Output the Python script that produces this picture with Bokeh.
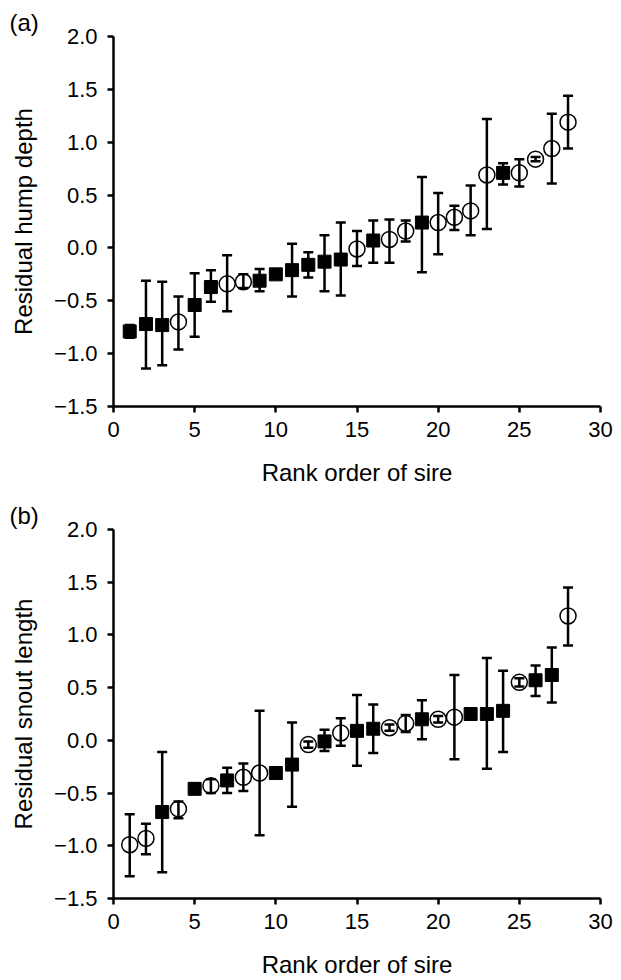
from bokeh.plotting import figure
from bokeh.models import ColumnDataSource, Whisker, TeeHead, FixedTicker
from bokeh.layouts import column
from bokeh.embed import file_html
from bokeh.resources import INLINE

# ---------------- data ----------------
rank = list(range(1, 29))

# S = filled square, C = open circle
hump_kind = ["S", "S", "S", "C", "S", "S", "C", "C", "S", "S",
             "S", "S", "S", "S", "C", "S", "C", "C", "S", "C",
             "C", "C", "C", "S", "C", "C", "C", "C"]
hump_mean = [-0.79, -0.72, -0.73, -0.70, -0.54, -0.37, -0.34, -0.32, -0.31, -0.25,
             -0.21, -0.16, -0.13, -0.11, -0.01, 0.07, 0.08, 0.16, 0.24, 0.24,
             0.29, 0.35, 0.69, 0.71, 0.71, 0.84, 0.94, 1.19]
hump_lower = [-0.85, -1.14, -1.11, -0.96, -0.84, -0.51, -0.60, -0.38, -0.41, -0.27,
              -0.46, -0.28, -0.41, -0.45, -0.17, -0.14, -0.14, 0.06, -0.23, -0.06,
              0.17, 0.12, 0.18, 0.60, 0.58, 0.82, 0.61, 0.94]
hump_upper = [-0.73, -0.31, -0.32, -0.46, -0.24, -0.21, -0.07, -0.25, -0.20, -0.23,
              0.04, -0.04, 0.12, 0.24, 0.16, 0.26, 0.27, 0.26, 0.67, 0.52,
              0.40, 0.59, 1.22, 0.80, 0.84, 0.86, 1.27, 1.44]

snout_kind = ["C", "C", "S", "C", "S", "C", "S", "C", "C", "S",
              "S", "C", "S", "C", "S", "S", "C", "C", "S", "C",
              "C", "S", "S", "S", "C", "S", "S", "C"]
snout_mean = [-0.99, -0.93, -0.68, -0.65, -0.46, -0.43, -0.38, -0.35, -0.31, -0.31,
              -0.23, -0.04, -0.01, 0.07, 0.09, 0.11, 0.12, 0.16, 0.20, 0.20,
              0.22, 0.25, 0.25, 0.28, 0.55, 0.57, 0.62, 1.18]
snout_lower = [-1.29, -1.08, -1.25, -0.74, -0.48, -0.50, -0.50, -0.48, -0.90, -0.33,
               -0.63, -0.07, -0.10, -0.05, -0.24, -0.12, 0.09, 0.08, 0.01, 0.17,
               -0.18, 0.23, -0.27, -0.11, 0.51, 0.42, 0.36, 0.90]
snout_upper = [-0.70, -0.79, -0.11, -0.58, -0.44, -0.37, -0.26, -0.22, 0.28, -0.29,
               0.17, -0.01, 0.10, 0.21, 0.43, 0.34, 0.15, 0.24, 0.38, 0.23,
               0.62, 0.27, 0.78, 0.66, 0.59, 0.71, 0.88, 1.45]

x_ticks = [0, 5, 10, 15, 20, 25, 30]
y_ticks = [-1.5, -1.0, -0.5, 0.0, 0.5, 1.0, 1.5, 2.0]
y_tick_labels = ["\u22121.5", "\u22121.0", "\u22120.5", "0.0", "0.5", "1.0", "1.5", "2.0"]

FONT = "Liberation Sans"
TICK_FS = "22px"
TITLE_FS = "24px"


def panel(letter, ylabel, kind, mean, lower, upper, top, bottom):
    frame_h = 370
    p = figure(width=615, height=top + frame_h + bottom,
               x_range=(0, 30), y_range=(-1.5, 2.0),
               output_backend="svg", toolbar_location=None,
               min_border_left=113, min_border_right=15,
               min_border_top=top, min_border_bottom=bottom)
    p.outline_line_color = None
    p.xgrid.visible = False
    p.ygrid.visible = False
    p.background_fill_color = "white"

    p.title.text = letter
    p.title.align = "left"
    p.title.offset = -104
    p.title.standoff = 2
    p.title.text_font = FONT
    p.title.text_font_size = TITLE_FS
    p.title.text_font_style = "normal"
    p.title.text_color = "black"

    sq = [i for i, k in enumerate(kind) if k == "S"]
    ci = [i for i, k in enumerate(kind) if k == "C"]
    src_sq = ColumnDataSource(dict(x=[rank[i] for i in sq], y=[mean[i] for i in sq]))
    src_ci = ColumnDataSource(dict(x=[rank[i] for i in ci], y=[mean[i] for i in ci]))
    src_err = ColumnDataSource(dict(x=rank, lower=lower, upper=upper))

    p.scatter("x", "y", source=src_sq, marker="square", size=13,
              fill_color="black", line_color="black", line_width=1)
    p.scatter("x", "y", source=src_ci, marker="circle", size=16,
              fill_color="white", line_color="black", line_width=1.5)

    w = Whisker(source=src_err, base="x", lower="lower", upper="upper",
                line_color="black", line_width=2.5, level="annotation",
                upper_head=TeeHead(size=10, line_width=2.5, line_color="black"),
                lower_head=TeeHead(size=10, line_width=2.5, line_color="black"))
    p.add_layout(w)

    for ax in (p.xaxis[0], p.yaxis[0]):
        ax.axis_line_width = 2.5
        ax.axis_line_color = "black"
        ax.major_tick_line_width = 2.5
        ax.major_tick_line_color = "black"
        ax.major_tick_in = 0
        ax.major_tick_out = 6
        ax.minor_tick_line_color = None
        ax.major_label_text_font = FONT
        ax.major_label_text_font_size = TICK_FS
        ax.major_label_text_color = "black"
        ax.axis_label_text_font = FONT
        ax.axis_label_text_font_size = TITLE_FS
        ax.axis_label_text_font_style = "normal"
        ax.axis_label_text_color = "black"

    p.xaxis.ticker = FixedTicker(ticks=x_ticks)
    p.yaxis.ticker = FixedTicker(ticks=y_ticks)
    p.yaxis.major_label_overrides = dict(zip(y_ticks, y_tick_labels))
    p.xaxis.axis_label = "Rank order of sire"
    p.yaxis.axis_label = ylabel
    p.xaxis.major_label_standoff = 9
    p.yaxis.major_label_standoff = 10
    p.xaxis.axis_label_standoff = 19
    p.yaxis.axis_label_standoff = 14
    return p


pa = panel("(a)", "Residual hump depth", hump_kind, hump_mean, hump_lower, hump_upper, 36, 84)
pb = panel("(b)", "Residual snout length", snout_kind, snout_mean, snout_lower, snout_upper, 39, 81)

layout = column(pa, pb, spacing=0)
open("out.html", "w").write(file_html(layout, INLINE))
